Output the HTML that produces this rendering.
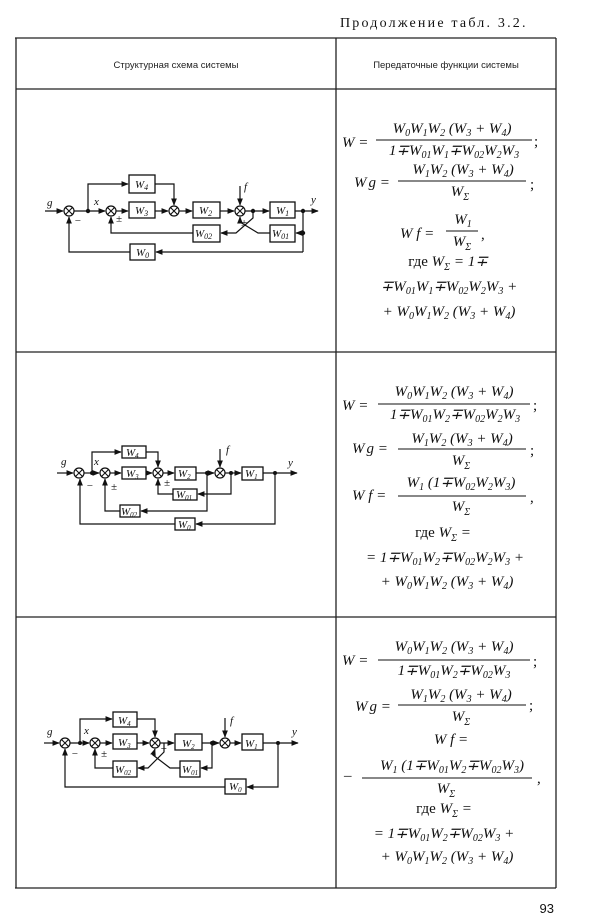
<!DOCTYPE html>
<html><head><meta charset="utf-8">
<style>
html,body{margin:0;padding:0;background:#fff;}
svg{display:block;}
.l{stroke:#111;stroke-width:1.2;fill:none;}
.b{stroke:#111;stroke-width:1.3;fill:#fff;}
.t{font-family:"Liberation Serif",serif;font-style:italic;font-size:11px;fill:#111;}
.m{font-family:"Liberation Serif",serif;font-style:italic;font-size:15px;fill:#111;}
.r{font-family:"Liberation Serif",serif;font-size:15px;fill:#111;}
.h{font-family:"Liberation Sans",sans-serif;font-size:9.5px;fill:#222;}
</style></head><body>
<svg width="600" height="924" viewBox="0 0 600 924" xmlns="http://www.w3.org/2000/svg">
<defs>
<marker id="a" viewBox="0 0 10 10" refX="9" refY="5" markerWidth="6" markerHeight="6" orient="auto"><path d="M0,1 L10,5 L0,9 z" fill="#111"/></marker>
<g id="sum"><circle r="5" fill="#fff" stroke="#111" stroke-width="1.2"/><path d="M-3.5,-3.5 L3.5,3.5 M-3.5,3.5 L3.5,-3.5" stroke="#111" stroke-width="1.1"/></g>
</defs>

<text x="340" y="27" font-family="Liberation Serif,serif" font-size="14" letter-spacing="2.2" fill="#111">Продолжение табл. 3.2.</text>
<!-- table -->
<g stroke="#222" stroke-width="1.3" fill="none">
<line x1="15" y1="38" x2="556" y2="38"/>
<line x1="16" y1="38" x2="16" y2="888"/>
<line x1="556" y1="38" x2="556" y2="888"/>
<line x1="336" y1="38" x2="336" y2="888"/>
<line x1="16" y1="89" x2="556" y2="89"/>
<line x1="16" y1="352" x2="556" y2="352"/>
<line x1="16" y1="617" x2="556" y2="617"/>
<line x1="15" y1="888" x2="556" y2="888"/>
</g>
<text class="h" x="176" y="68" text-anchor="middle">Структурная схема системы</text>
<text class="h" x="446" y="68" text-anchor="middle">Передаточные функции системы</text>
<text x="554" y="913" text-anchor="end" font-family="Liberation Sans,sans-serif" font-size="13" fill="#111">93</text>

<!-- Diagram 1 -->
<g>
<path class="l" d="M45,211 L63,211" marker-end="url(#a)"/>
<path class="l" d="M74,211 L105,211" marker-end="url(#a)"/>
<path class="l" d="M88,211 L88,184 L128,184" marker-end="url(#a)"/>
<path class="l" d="M155,184 L174,184 L174,205" marker-end="url(#a)"/>
<path class="l" d="M116,211 L128,211" marker-end="url(#a)"/>
<path class="l" d="M155,211 L168,211" marker-end="url(#a)"/>
<path class="l" d="M179,211 L192,211" marker-end="url(#a)"/>
<path class="l" d="M220,211 L234,211" marker-end="url(#a)"/>
<path class="l" d="M240,186 L240,205" marker-end="url(#a)"/>
<path class="l" d="M245,211 L269,211" marker-end="url(#a)"/>
<path class="l" d="M295,211 L318,211" marker-end="url(#a)"/>
<path class="l" d="M303,211 L303,252"/>
<path class="l" d="M303,233 L296,233" marker-end="url(#a)"/>
<path class="l" d="M253,211 L253,218 L236,233 L221,233" marker-end="url(#a)"/>
<path class="l" d="M270,233 L258,233 L240,222 L240,217" marker-end="url(#a)"/>
<path class="l" d="M193,233 L111,233 L111,217" marker-end="url(#a)"/>
<path class="l" d="M303,252 L156,252" marker-end="url(#a)"/>
<path class="l" d="M130,252 L69,252 L69,217" marker-end="url(#a)"/>
<use href="#sum" x="69" y="211"/><use href="#sum" x="111" y="211"/><use href="#sum" x="174" y="211"/><use href="#sum" x="240" y="211"/>
<circle cx="88" cy="211" r="2.2" fill="#111"/><circle cx="253" cy="211" r="2.2" fill="#111"/><circle cx="303" cy="211" r="2.2" fill="#111"/><circle cx="303" cy="233" r="2.2" fill="#111"/>
<rect class="b" x="129" y="175" width="26" height="18"/><rect class="b" x="129" y="202" width="26" height="16"/><rect class="b" x="193" y="202" width="27" height="16"/><rect class="b" x="270" y="202" width="25" height="16"/><rect class="b" x="270" y="225" width="25" height="17"/><rect class="b" x="193" y="225" width="27" height="17"/><rect class="b" x="130" y="244" width="25" height="16"/>
<text class="t" x="135" y="188">W<tspan font-size="8" dy="2">4</tspan></text>
<text class="t" x="135" y="214">W<tspan font-size="8" dy="2">3</tspan></text>
<text class="t" x="199" y="214">W<tspan font-size="8" dy="2">2</tspan></text>
<text class="t" x="276" y="214">W<tspan font-size="8" dy="2">1</tspan></text>
<text class="t" x="272" y="237">W<tspan font-size="8" dy="2">01</tspan></text>
<text class="t" x="195" y="237">W<tspan font-size="8" dy="2">02</tspan></text>
<text class="t" x="136" y="256">W<tspan font-size="8" dy="2">0</tspan></text>
<text class="t" x="47" y="206">g</text><text class="t" x="94" y="205">x</text><text class="t" x="311" y="203">y</text><text class="t" x="244" y="190">f</text>
<text class="t" x="74" y="224" font-style="normal">−</text><text class="t" x="116" y="222" font-style="normal">±</text><text class="t" x="241" y="226" font-style="normal" font-size="9">±</text>
</g>

<!-- Diagram 2 -->
<g>
<path class="l" d="M57,473 L73,473" marker-end="url(#a)"/>
<path class="l" d="M84,473 L99,473" marker-end="url(#a)"/>
<path class="l" d="M92,473 L92,452 L121,452" marker-end="url(#a)"/>
<path class="l" d="M146,452 L158,452 L158,467" marker-end="url(#a)"/>
<path class="l" d="M110,473 L121,473" marker-end="url(#a)"/>
<path class="l" d="M146,473 L152,473" marker-end="url(#a)"/>
<path class="l" d="M163,473 L174,473" marker-end="url(#a)"/>
<path class="l" d="M196,473 L214,473" marker-end="url(#a)"/>
<path class="l" d="M220,449 L220,467" marker-end="url(#a)"/>
<path class="l" d="M225,473 L241,473" marker-end="url(#a)"/>
<path class="l" d="M263,473 L297,473" marker-end="url(#a)"/>
<path class="l" d="M231,473 L231,494 L198,494" marker-end="url(#a)"/>
<path class="l" d="M173,494 L158,494 L158,479" marker-end="url(#a)"/>
<path class="l" d="M207,473 L207,511 L141,511" marker-end="url(#a)"/>
<path class="l" d="M120,511 L105,511 L105,479" marker-end="url(#a)"/>
<path class="l" d="M275,473 L275,524 L196,524" marker-end="url(#a)"/>
<path class="l" d="M175,524 L80,524 L80,479" marker-end="url(#a)"/>
<use href="#sum" x="79" y="473"/><use href="#sum" x="105" y="473"/><use href="#sum" x="158" y="473"/><use href="#sum" x="220" y="473"/>
<circle cx="92" cy="473" r="2" fill="#111"/><circle cx="207" cy="473" r="2" fill="#111"/><circle cx="231" cy="473" r="2" fill="#111"/><circle cx="275" cy="473" r="2" fill="#111"/>
<rect class="b" x="122" y="446" width="24" height="12"/><rect class="b" x="122" y="467" width="24" height="12"/><rect class="b" x="175" y="467" width="21" height="13"/><rect class="b" x="242" y="467" width="21" height="13"/><rect class="b" x="173" y="489" width="24" height="11"/><rect class="b" x="120" y="505" width="20" height="12"/><rect class="b" x="175" y="518" width="20" height="12"/>
<text class="t" x="126" y="456">W<tspan font-size="7" dy="2">4</tspan></text>
<text class="t" x="126" y="477">W<tspan font-size="7" dy="2">3</tspan></text>
<text class="t" x="178" y="477">W<tspan font-size="7" dy="2">2</tspan></text>
<text class="t" x="245" y="477">W<tspan font-size="7" dy="2">1</tspan></text>
<text class="t" x="176" y="498">W<tspan font-size="7" dy="2">01</tspan></text>
<text class="t" x="121" y="515">W<tspan font-size="7" dy="2">02</tspan></text>
<text class="t" x="178" y="528">W<tspan font-size="7" dy="2">0</tspan></text>
<text class="t" x="61" y="465">g</text><text class="t" x="94" y="465">x</text><text class="t" x="288" y="466">y</text><text class="t" x="226" y="453">f</text>
<text class="t" x="86" y="489" font-style="normal">−</text><text class="t" x="111" y="490" font-style="normal">±</text><text class="t" x="164" y="486" font-style="normal" font-size="9">±</text>
</g>

<!-- Diagram 3 -->
<g>
<path class="l" d="M44,743 L59,743" marker-end="url(#a)"/>
<path class="l" d="M70,743 L89,743" marker-end="url(#a)"/>
<path class="l" d="M80,743 L80,719 L112,719" marker-end="url(#a)"/>
<path class="l" d="M137,719 L155,719 L155,737" marker-end="url(#a)"/>
<path class="l" d="M100,743 L112,743" marker-end="url(#a)"/>
<path class="l" d="M137,743 L149,743" marker-end="url(#a)"/>
<path class="l" d="M160,743 L174,743" marker-end="url(#a)"/>
<path class="l" d="M202,743 L219,743" marker-end="url(#a)"/>
<path class="l" d="M225,718 L225,737" marker-end="url(#a)"/>
<path class="l" d="M230,743 L241,743" marker-end="url(#a)"/>
<path class="l" d="M263,743 L298,743" marker-end="url(#a)"/>
<path class="l" d="M212,743 L212,768 L201,768" marker-end="url(#a)"/>
<path class="l" d="M180,768 L170,768 L153,755 L155,749" marker-end="url(#a)"/>
<path class="l" d="M164,743 L164,752 L148,768 L138,768" marker-end="url(#a)"/>
<path class="l" d="M113,768 L95,768 L95,749" marker-end="url(#a)"/>
<path class="l" d="M278,743 L278,787 L247,787" marker-end="url(#a)"/>
<path class="l" d="M225,787 L65,787 L65,749" marker-end="url(#a)"/>
<use href="#sum" x="65" y="743"/><use href="#sum" x="95" y="743"/><use href="#sum" x="155" y="743"/><use href="#sum" x="225" y="743"/>
<circle cx="80" cy="743" r="2" fill="#111"/><circle cx="212" cy="743" r="2" fill="#111"/><circle cx="278" cy="743" r="2" fill="#111"/>
<rect class="b" x="113" y="712" width="24" height="15"/><rect class="b" x="113" y="734" width="24" height="15"/><rect class="b" x="175" y="734" width="27" height="16"/><rect class="b" x="242" y="734" width="21" height="16"/><rect class="b" x="180" y="761" width="20" height="16"/><rect class="b" x="113" y="761" width="24" height="16"/><rect class="b" x="225" y="779" width="21" height="15"/>
<text class="t" x="118" y="724">W<tspan font-size="7" dy="2">4</tspan></text>
<text class="t" x="118" y="746">W<tspan font-size="7" dy="2">3</tspan></text>
<text class="t" x="182" y="747">W<tspan font-size="7" dy="2">2</tspan></text>
<text class="t" x="245" y="747">W<tspan font-size="7" dy="2">1</tspan></text>
<text class="t" x="182" y="773">W<tspan font-size="7" dy="2">01</tspan></text>
<text class="t" x="115" y="773">W<tspan font-size="7" dy="2">02</tspan></text>
<text class="t" x="229" y="790">W<tspan font-size="7" dy="2">0</tspan></text>
<text class="t" x="47" y="735">g</text><text class="t" x="84" y="734">x</text><text class="t" x="292" y="735">y</text><text class="t" x="230" y="724">f</text>
<text class="t" x="71" y="757" font-style="normal">−</text><text class="t" x="101" y="757" font-style="normal">±</text><text class="t" x="160" y="752" font-style="normal" font-size="9">+</text>
</g>

<!-- Formulas row 1 -->
<g>
<text class="m" x="342" y="147">W =</text>
<text class="m" x="452" y="133" text-anchor="middle">W<tspan font-size="10" dy="3">0</tspan><tspan dy="-3">W</tspan><tspan font-size="10" dy="3">1</tspan><tspan dy="-3">W</tspan><tspan font-size="10" dy="3">2</tspan><tspan dy="-3"> (W</tspan><tspan font-size="10" dy="3">3</tspan><tspan dy="-3"> + W</tspan><tspan font-size="10" dy="3">4</tspan><tspan dy="-3">)</tspan></text>
<line x1="376" y1="140" x2="532" y2="140" stroke="#111" stroke-width="1"/>
<text class="m" x="454" y="155" text-anchor="middle">1∓W<tspan font-size="10" dy="3">01</tspan><tspan dy="-3">W</tspan><tspan font-size="10" dy="3">1</tspan><tspan dy="-3">∓W</tspan><tspan font-size="10" dy="3">02</tspan><tspan dy="-3">W</tspan><tspan font-size="10" dy="3">2</tspan><tspan dy="-3">W</tspan><tspan font-size="10" dy="3">3</tspan></text>
<text class="r" x="534" y="146">;</text>
<text class="m" x="354" y="187">W<tspan dx="2">g</tspan> =</text>
<text class="m" x="463" y="174" text-anchor="middle">W<tspan font-size="10" dy="3">1</tspan><tspan dy="-3">W</tspan><tspan font-size="10" dy="3">2</tspan><tspan dy="-3"> (W</tspan><tspan font-size="10" dy="3">3</tspan><tspan dy="-3"> + W</tspan><tspan font-size="10" dy="3">4</tspan><tspan dy="-3">)</tspan></text>
<line x1="398" y1="181" x2="526" y2="181" stroke="#111" stroke-width="1"/>
<text class="m" x="460" y="196" text-anchor="middle">W<tspan font-size="10" dy="4">Σ</tspan></text>
<text class="r" x="530" y="189">;</text>
<text class="m" x="400" y="238">W <tspan>f</tspan> =</text>
<text class="m" x="463" y="224" text-anchor="middle">W<tspan font-size="10" dy="3">1</tspan></text>
<line x1="446" y1="231" x2="478" y2="231" stroke="#111" stroke-width="1"/>
<text class="m" x="462" y="246" text-anchor="middle">W<tspan font-size="10" dy="4">Σ</tspan></text>
<text class="r" x="481" y="239">,</text>
<text class="m" x="448" y="266" text-anchor="middle"><tspan font-style="normal">где</tspan> W<tspan font-size="10" dy="4">Σ</tspan><tspan dy="-4"> = 1∓</tspan></text>
<text class="m" x="449" y="291" text-anchor="middle">∓W<tspan font-size="10" dy="3">01</tspan><tspan dy="-3">W</tspan><tspan font-size="10" dy="3">1</tspan><tspan dy="-3">∓W</tspan><tspan font-size="10" dy="3">02</tspan><tspan dy="-3">W</tspan><tspan font-size="10" dy="3">2</tspan><tspan dy="-3">W</tspan><tspan font-size="10" dy="3">3</tspan><tspan dy="-3"> +</tspan></text>
<text class="m" x="449" y="316" text-anchor="middle">+ W<tspan font-size="10" dy="3">0</tspan><tspan dy="-3">W</tspan><tspan font-size="10" dy="3">1</tspan><tspan dy="-3">W</tspan><tspan font-size="10" dy="3">2</tspan><tspan dy="-3"> (W</tspan><tspan font-size="10" dy="3">3</tspan><tspan dy="-3"> + W</tspan><tspan font-size="10" dy="3">4</tspan><tspan dy="-3">)</tspan></text>
</g>

<!-- Formulas row 2 -->
<g>
<text class="m" x="342" y="410">W =</text>
<text class="m" x="454" y="396" text-anchor="middle">W<tspan font-size="10" dy="3">0</tspan><tspan dy="-3">W</tspan><tspan font-size="10" dy="3">1</tspan><tspan dy="-3">W</tspan><tspan font-size="10" dy="3">2</tspan><tspan dy="-3"> (W</tspan><tspan font-size="10" dy="3">3</tspan><tspan dy="-3"> + W</tspan><tspan font-size="10" dy="3">4</tspan><tspan dy="-3">)</tspan></text>
<line x1="378" y1="404" x2="530" y2="404" stroke="#111" stroke-width="1"/>
<text class="m" x="455" y="419" text-anchor="middle">1∓W<tspan font-size="10" dy="3">01</tspan><tspan dy="-3">W</tspan><tspan font-size="10" dy="3">2</tspan><tspan dy="-3">∓W</tspan><tspan font-size="10" dy="3">02</tspan><tspan dy="-3">W</tspan><tspan font-size="10" dy="3">2</tspan><tspan dy="-3">W</tspan><tspan font-size="10" dy="3">3</tspan></text>
<text class="r" x="533" y="410">;</text>
<text class="m" x="352" y="453">W<tspan dx="2">g</tspan> =</text>
<text class="m" x="462" y="443" text-anchor="middle">W<tspan font-size="10" dy="3">1</tspan><tspan dy="-3">W</tspan><tspan font-size="10" dy="3">2</tspan><tspan dy="-3"> (W</tspan><tspan font-size="10" dy="3">3</tspan><tspan dy="-3"> + W</tspan><tspan font-size="10" dy="3">4</tspan><tspan dy="-3">)</tspan></text>
<line x1="398" y1="449" x2="526" y2="449" stroke="#111" stroke-width="1"/>
<text class="m" x="461" y="465" text-anchor="middle">W<tspan font-size="10" dy="4">Σ</tspan></text>
<text class="r" x="530" y="455">;</text>
<text class="m" x="352" y="500">W <tspan>f</tspan> =</text>
<text class="m" x="461" y="487" text-anchor="middle">W<tspan font-size="10" dy="3">1</tspan><tspan dy="-3"> (1∓W</tspan><tspan font-size="10" dy="3">02</tspan><tspan dy="-3">W</tspan><tspan font-size="10" dy="3">2</tspan><tspan dy="-3">W</tspan><tspan font-size="10" dy="3">3</tspan><tspan dy="-3">)</tspan></text>
<line x1="398" y1="496" x2="526" y2="496" stroke="#111" stroke-width="1"/>
<text class="m" x="461" y="511" text-anchor="middle">W<tspan font-size="10" dy="4">Σ</tspan></text>
<text class="r" x="530" y="502">,</text>
<text class="m" x="443" y="537" text-anchor="middle"><tspan font-style="normal">где</tspan> W<tspan font-size="10" dy="4">Σ</tspan><tspan dy="-4"> =</tspan></text>
<text class="m" x="445" y="562" text-anchor="middle">= 1∓W<tspan font-size="10" dy="3">01</tspan><tspan dy="-3">W</tspan><tspan font-size="10" dy="3">2</tspan><tspan dy="-3">∓W</tspan><tspan font-size="10" dy="3">02</tspan><tspan dy="-3">W</tspan><tspan font-size="10" dy="3">2</tspan><tspan dy="-3">W</tspan><tspan font-size="10" dy="3">3</tspan><tspan dy="-3"> +</tspan></text>
<text class="m" x="447" y="586" text-anchor="middle">+ W<tspan font-size="10" dy="3">0</tspan><tspan dy="-3">W</tspan><tspan font-size="10" dy="3">1</tspan><tspan dy="-3">W</tspan><tspan font-size="10" dy="3">2</tspan><tspan dy="-3"> (W</tspan><tspan font-size="10" dy="3">3</tspan><tspan dy="-3"> + W</tspan><tspan font-size="10" dy="3">4</tspan><tspan dy="-3">)</tspan></text>
</g>

<!-- Formulas row 3 -->
<g>
<text class="m" x="342" y="665">W =</text>
<text class="m" x="454" y="651" text-anchor="middle">W<tspan font-size="10" dy="3">0</tspan><tspan dy="-3">W</tspan><tspan font-size="10" dy="3">1</tspan><tspan dy="-3">W</tspan><tspan font-size="10" dy="3">2</tspan><tspan dy="-3"> (W</tspan><tspan font-size="10" dy="3">3</tspan><tspan dy="-3"> + W</tspan><tspan font-size="10" dy="3">4</tspan><tspan dy="-3">)</tspan></text>
<line x1="378" y1="660" x2="530" y2="660" stroke="#111" stroke-width="1"/>
<text class="m" x="454" y="675" text-anchor="middle">1∓W<tspan font-size="10" dy="3">01</tspan><tspan dy="-3">W</tspan><tspan font-size="10" dy="3">2</tspan><tspan dy="-3">∓W</tspan><tspan font-size="10" dy="3">02</tspan><tspan dy="-3">W</tspan><tspan font-size="10" dy="3">3</tspan></text>
<text class="r" x="533" y="666">;</text>
<text class="m" x="355" y="711">W<tspan dx="2">g</tspan> =</text>
<text class="m" x="461" y="699" text-anchor="middle">W<tspan font-size="10" dy="3">1</tspan><tspan dy="-3">W</tspan><tspan font-size="10" dy="3">2</tspan><tspan dy="-3"> (W</tspan><tspan font-size="10" dy="3">3</tspan><tspan dy="-3"> + W</tspan><tspan font-size="10" dy="3">4</tspan><tspan dy="-3">)</tspan></text>
<line x1="398" y1="705" x2="526" y2="705" stroke="#111" stroke-width="1"/>
<text class="m" x="461" y="721" text-anchor="middle">W<tspan font-size="10" dy="4">Σ</tspan></text>
<text class="r" x="529" y="710">;</text>
<text class="m" x="451" y="744" text-anchor="middle">W <tspan>f</tspan> =</text>
<text class="r" x="344" y="780">–</text>
<text class="m" x="452" y="770" text-anchor="middle">W<tspan font-size="10" dy="3">1</tspan><tspan dy="-3"> (1∓W</tspan><tspan font-size="10" dy="3">01</tspan><tspan dy="-3">W</tspan><tspan font-size="10" dy="3">2</tspan><tspan dy="-3">∓W</tspan><tspan font-size="10" dy="3">02</tspan><tspan dy="-3">W</tspan><tspan font-size="10" dy="3">3</tspan><tspan dy="-3">)</tspan></text>
<line x1="362" y1="778" x2="532" y2="778" stroke="#111" stroke-width="1"/>
<text class="m" x="446" y="793" text-anchor="middle">W<tspan font-size="10" dy="4">Σ</tspan></text>
<text class="r" x="537" y="783">,</text>
<text class="m" x="444" y="813" text-anchor="middle"><tspan font-style="normal">где</tspan> W<tspan font-size="10" dy="4">Σ</tspan><tspan dy="-4"> =</tspan></text>
<text class="m" x="444" y="838" text-anchor="middle">= 1∓W<tspan font-size="10" dy="3">01</tspan><tspan dy="-3">W</tspan><tspan font-size="10" dy="3">2</tspan><tspan dy="-3">∓W</tspan><tspan font-size="10" dy="3">02</tspan><tspan dy="-3">W</tspan><tspan font-size="10" dy="3">3</tspan><tspan dy="-3"> +</tspan></text>
<text class="m" x="447" y="861" text-anchor="middle">+ W<tspan font-size="10" dy="3">0</tspan><tspan dy="-3">W</tspan><tspan font-size="10" dy="3">1</tspan><tspan dy="-3">W</tspan><tspan font-size="10" dy="3">2</tspan><tspan dy="-3"> (W</tspan><tspan font-size="10" dy="3">3</tspan><tspan dy="-3"> + W</tspan><tspan font-size="10" dy="3">4</tspan><tspan dy="-3">)</tspan></text>
</g>
</svg>
</body></html>
